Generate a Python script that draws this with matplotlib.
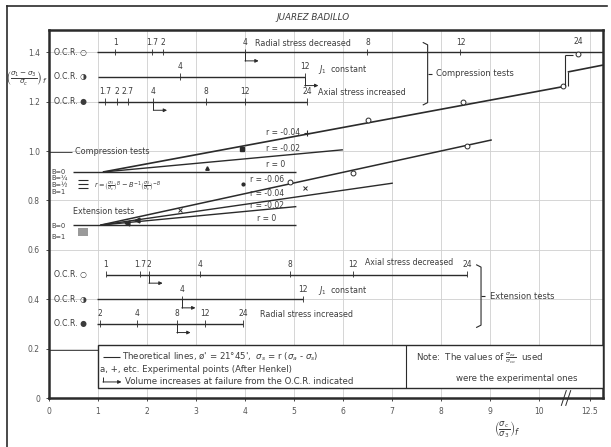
import matplotlib.pyplot as plt
from matplotlib.patches import Rectangle
from matplotlib.lines import Line2D

ink = "#2b2b2b"
txt = "#3c3c3c"
gridc = "#cfcfcf"

# x ticks (sigma_c / sigma_3); 12.5 sits past the axis break
xtick_pos = [0, 1, 2, 3, 4, 5, 6, 7, 8, 9, 10, 11.04]
xtick_lab = ["0", "1", "2", "3", "4", "5", "6", "7", "8", "9", "10", "12.5"]
ytick_pos = [0, 0.2, 0.4, 0.6, 0.8, 1.0, 1.2, 1.4]
ytick_lab = ["0", "0.2", "0.4", "0.6", "0.8", "1.0", "1.2", "1.4"]

# theoretical lines, compression tests
comp_r0_x = [0.49, 5.05]
comp_r0_y = [0.915, 0.915]
comp_r002_x = [1.1, 6.0]
comp_r002_y = [0.915, 1.005]
comp_r004_x = [1.1, 10.53]
comp_r004_y = [0.915, 1.262]
comp_tail_x = [10.59, 11.31]
comp_tail_y = [1.32, 1.348]

# theoretical lines, extension tests
ext_r0_x = [0.49, 5.05]
ext_r0_y = [0.70, 0.70]
ext_r002_x = [1.05, 5.05]
ext_r002_y = [0.70, 0.775]
ext_r004_x = [1.05, 7.02]
ext_r004_y = [0.70, 0.87]
ext_r006_x = [1.05, 9.04]
ext_r006_y = [0.70, 1.045]

# experimental points (after Henkel)
comp_circ_x = [6.51, 8.45, 10.5]
comp_circ_y = [1.125, 1.198, 1.265]
ext_circ_x = [4.92, 6.2, 8.53]
ext_circ_y = [0.875, 0.91, 1.02]
comp_plus = [5.27, 1.073]
comp_sq = [3.94, 1.008]
comp_tri = [3.22, 0.93]
ext_dot = [3.96, 0.865]
ext_cross_x = [2.67, 5.22]
ext_cross_y = [0.76, 0.85]
ext_tri_x = [1.59, 1.8]
ext_tri_y = [0.71, 0.72]

# O.C.R. lines: level, start, end, marker positions and labels
ocr_c1 = [1.4, 0.98, 11.31]
ocr_c1_x = [1.35, 2.1, 2.33, 4.0, 6.5, 8.4]
ocr_c1_lab = ["1", "1.7", "2", "4", "8", "12"]
ocr_c2 = [1.3, 1.0, 5.22]
ocr_c2_x = [2.67, 5.22]
ocr_c2_lab = ["4", "12"]
ocr_c3 = [1.2, 1.0, 5.27]
ocr_c3_x = [1.14, 1.39, 1.61, 2.13, 3.2, 4.0, 5.27]
ocr_c3_lab = ["1.7", "2", "2.7", "4", "8", "12", "24"]

ocr_e1 = [0.5, 1.16, 8.53]
ocr_e1_x = [1.16, 1.86, 2.04, 3.08, 4.92, 6.2, 8.53]
ocr_e1_lab = ["1", "1.7", "2", "4", "8", "12", "24"]
ocr_e2 = [0.4, 0.98, 5.18]
ocr_e2_x = [2.71, 5.18]
ocr_e2_lab = ["4", "12"]
ocr_e3 = [0.3, 0.98, 3.96]
ocr_e3_x = [1.04, 1.8, 2.61, 3.18, 3.96]
ocr_e3_lab = ["2", "4", "8", "12", "24"]

fig = plt.figure(figsize=(6.11, 4.47), dpi=100)
ax = fig.add_axes([49 / 611, 1 - 398 / 447, 554 / 611, 368 / 447])
ax.set_xlim(0, 11.31)
ax.set_ylim(0, 1.49)

for x in range(1, 11):
    ax.axvline(x, color=gridc, lw=0.6, zorder=0)
ax.axvline(11.04, color=gridc, lw=0.6, zorder=0)
for y in ytick_pos[1:]:
    ax.axhline(y, color=gridc, lw=0.6, zorder=0)

for s in ax.spines.values():
    s.set_linewidth(1.8)
    s.set_color(ink)
ax.set_xticks(xtick_pos)
ax.set_xticklabels(xtick_lab)
ax.set_yticks(ytick_pos)
ax.set_yticklabels(ytick_lab)
ax.tick_params(labelsize=5.5, labelcolor="#555555", length=2.5, width=0.6,
               color=ink, pad=4)


def line(xs, ys, lw=1.0, **kw):
    ax.plot(xs, ys, color=ink, lw=lw, solid_capstyle="butt", **kw)


def ocr_arrow(x, y):
    drop = y - 0.035
    line([x, x], [y, drop], lw=0.7)
    ax.annotate("", xy=(x + 0.28, drop), xytext=(x, drop),
                arrowprops=dict(arrowstyle="-|>", color=ink, lw=0.7,
                                mutation_scale=5, shrinkA=0, shrinkB=0))


def ocr_line(spec, xs, labels, name):
    y, x0, x1 = spec
    line([x0, x1], [y, y])
    for x, lab in zip(xs, labels):
        line([x, x], [y - 0.012, y + 0.014], lw=0.6)
        ax.text(x, y + 0.022, lab, ha="center", va="bottom", fontsize=5.5,
                color=txt)
    ax.text(0.1, y, name, ha="left", va="center", fontsize=5.6, color=txt)


# compression and extension theoretical lines
line(comp_r0_x, comp_r0_y)
line(comp_r002_x, comp_r002_y)
line(comp_r004_x, comp_r004_y, lw=1.2)
line(comp_tail_x, comp_tail_y, lw=1.2)
line(ext_r0_x, ext_r0_y)
line(ext_r002_x, ext_r002_y)
line(ext_r004_x, ext_r004_y)
line(ext_r006_x, ext_r006_y, lw=1.1)

ax.plot(comp_circ_x, comp_circ_y, "o", ms=3.5, mfc="white", mec=ink, mew=0.7)
ax.plot(ext_circ_x, ext_circ_y, "o", ms=3.5, mfc="white", mec=ink, mew=0.7)
ax.plot(*comp_plus, "+", ms=4, color=ink, mew=0.8)
ax.plot(*comp_sq, "s", ms=3, color=ink)
ax.plot(*comp_tri, "^", ms=2.5, color=ink)
ax.plot(*ext_dot, "o", ms=2, color=ink)
ax.plot(ext_cross_x, ext_cross_y, "x", ms=3, color=ink, mew=0.7)
ax.plot(ext_tri_x, ext_tri_y, "<", ms=3.5, color=ink)

# r labels on the lines
for x, y, s in [(4.78, 1.077, "r = -0.04"), (4.78, 1.010, "r = -0.02"),
                (4.62, 0.945, "r = 0"), (4.45, 0.885, "r = -0.06"),
                (4.45, 0.828, "r = -0.04"), (4.45, 0.778, "r = -0.02"),
                (4.45, 0.725, "r = 0")]:
    ax.text(x, y, s, ha="center", va="center", fontsize=5.5, color=txt)

# O.C.R. lines
ocr_line(ocr_c1, ocr_c1_x, ocr_c1_lab, "O.C.R. ○")
ocr_line(ocr_c2, ocr_c2_x, ocr_c2_lab, "O.C.R. ◑")
ocr_line(ocr_c3, ocr_c3_x, ocr_c3_lab, "O.C.R. ●")
ocr_line(ocr_e1, ocr_e1_x, ocr_e1_lab, "O.C.R. ○")
ocr_line(ocr_e2, ocr_e2_x, ocr_e2_lab, "O.C.R. ◑")
ocr_line(ocr_e3, ocr_e3_x, ocr_e3_lab, "O.C.R. ●")
ocr_arrow(4.0, 1.4)
ocr_arrow(5.22, 1.3)
ocr_arrow(2.13, 1.2)
ocr_arrow(2.04, 0.5)
ocr_arrow(2.71, 0.4)
ocr_arrow(2.61, 0.3)

# O.C.R. 24 point in compression, past the break
ax.plot(10.8, 1.393, "o", ms=3.5, mfc="white", mec=ink, mew=0.7)
ax.text(10.8, 1.425, "24", ha="center", va="bottom", fontsize=5.5, color=txt)
line([10.53, 10.53], [1.262, 1.39], lw=0.8)
line([10.53, 10.7], [1.39, 1.39], lw=0.8)
line([10.59, 10.59], [1.262, 1.32], lw=0.8)

ax.text(4.2, 1.437, "Radial stress decreased", fontsize=5.8, va="center", color=txt)
ax.text(5.5, 1.33, "$J_1$  constant", fontsize=5.8, va="center", color=txt)
ax.text(5.5, 1.235, "Axial stress increased", fontsize=5.8, va="center", color=txt)
ax.text(6.45, 0.547, "Axial stress decreased", fontsize=5.6, va="center", color=txt)
ax.text(5.5, 0.435, "$J_1$  constant", fontsize=5.8, va="center", color=txt)
ax.text(4.3, 0.338, "Radial stress increased", fontsize=5.8, va="center", color=txt)

# brackets grouping the O.C.R. lines
for xb, y0, y1, label in [(7.73, 1.186, 1.44, "Compression tests"),
                          (8.82, 0.285, 0.54, "Extension tests")]:
    line([xb - 0.1, xb, xb, xb - 0.1], [y1, y1 - 0.01, y0 + 0.01, y0], lw=0.8)
    ym = (y0 + y1) / 2
    line([xb, xb + 0.08], [ym, ym], lw=0.8)
    ax.text(xb + 0.18, ym, label, fontsize=6, va="center", color=txt)

# left-hand labels
ax.text(0.53, 1.0, "Compression tests", fontsize=5.8, va="center", color=txt)
line([0, 0.47], [0.998, 0.998], lw=0.6)
ax.text(0.49, 0.755, "Extension tests", fontsize=5.8, va="center", color=txt)
for y, s in [(0.915, "B=0"), (0.89, "B=¼"), (0.862, "B=½"), (0.834, "B=1")]:
    ax.text(0.04, y, s, fontsize=4.8, va="center", color=txt)
for y in [0.883, 0.866, 0.849]:
    line([0.6, 0.8], [y, y], lw=0.8)
ax.text(0.92, 0.855,
        r"$r=\left(\frac{\sigma_3}{\sigma_c}\right)^{B}-B^{-1}"
        r"\left(\frac{\sigma_3}{\sigma_c}\right)^{-B}$",
        fontsize=4.8, va="center", color=txt)
ax.text(0.04, 0.696, "B=0", fontsize=4.8, va="center", color=txt)
ax.text(0.04, 0.652, "B=1", fontsize=4.8, va="center", color=txt)
ax.add_patch(Rectangle((0.6, 0.655), 0.2, 0.035, color="#9a9a9a", lw=0))

# key box at the bottom
ax.add_patch(Rectangle((1.0, 0.04), 10.31, 0.175, fill=True, fc="white",
                       ec=ink, lw=1.0, zorder=3))
line([7.29, 7.29], [0.04, 0.215], lw=0.8, zorder=4)
line([0, 1.0], [0.195, 0.195], lw=0.6)
line([1.1, 1.45], [0.165, 0.165], lw=0.8, zorder=4)
ax.text(1.5, 0.165,
        "Theoretical lines, ø' = 21°45',  $\\sigma_s$ = r ($\\sigma_a$ - $\\sigma_s$)",
        fontsize=6.2, va="center", color=txt, zorder=5)
ax.text(1.05, 0.115, "a, +, etc. Experimental points (After Henkel)",
        fontsize=6.2, va="center", color=txt, zorder=5)
line([1.1, 1.1], [0.085, 0.065], lw=0.7, zorder=4)
ax.annotate("", xy=(1.48, 0.065), xytext=(1.1, 0.065),
            arrowprops=dict(arrowstyle="-|>", color=ink, lw=0.7,
                            mutation_scale=5, shrinkA=0, shrinkB=0), zorder=5)
ax.text(1.55, 0.065, "Volume increases at failure from the O.C.R. indicated",
        fontsize=6.2, va="center", color=txt, zorder=5)
ax.text(7.5, 0.16, r"Note:  The values of $\frac{\sigma_{ex}}{\sigma_{co}}$  used",
        fontsize=6.2, va="center", color=txt, zorder=5)
ax.text(8.3, 0.08, "were the experimental ones", fontsize=6.2, va="center",
        color=txt, zorder=5)

# axis break marks
for dx in (0, 0.09):
    ax.plot([10.46 + dx, 10.56 + dx], [-0.03, 0.03], color=ink, lw=0.7,
            clip_on=False)

# axis labels and heading
fig.text(507 / 611, 1 - 430 / 447, r"$\left(\frac{\sigma_c}{\sigma_3}\right)_f$",
         fontsize=8.5, ha="center", va="center", color=txt)
fig.text(26 / 611, 1 - 79 / 447,
         r"$\left(\frac{\sigma_1-\sigma_3}{\sigma_c}\right)_f$",
         fontsize=7.5, ha="center", va="center", color=txt)
fig.text(313 / 611, 1 - 17 / 447, "JUAREZ BADILLO", fontsize=6.3,
         style="italic", ha="center", va="center", color=txt)

# outer frame
fig.add_artist(Line2D([7 / 611, 607 / 611], [1 - 6 / 447, 1 - 6 / 447],
                      color=ink, lw=1.2))
fig.add_artist(Line2D([7 / 611, 7 / 611], [0, 1 - 6 / 447], color=ink, lw=1.2))

fig.savefig("out.png", dpi=100)
